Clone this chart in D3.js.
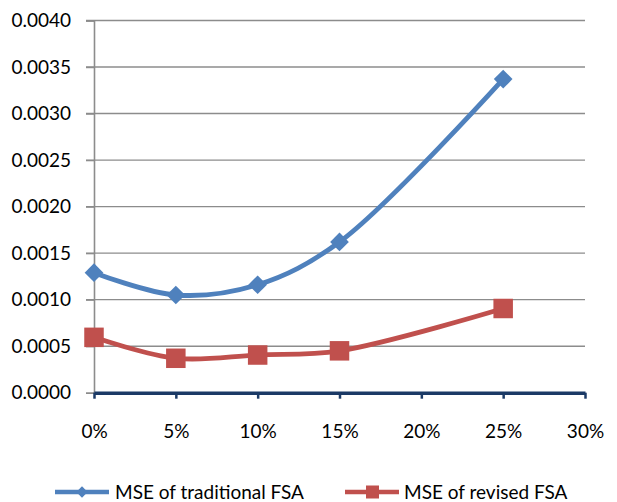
<!DOCTYPE html>
<html>
<head>
<meta charset="utf-8">
<script src="https://cdn.jsdelivr.net/npm/d3@7"></script>
<style>
  html, body { margin: 0; padding: 0; background: #fff; }
  svg { display: block; }
  text { font-family: Lato, "Open Sans", sans-serif; fill: #000; }
</style>
</head>
<body>
<svg id="chart" width="617" height="502"></svg>
<script>
// ---- data ----
const xValues = [0, 5, 10, 15, 25];            // noise level (%)
const traditionalMSE = [0.00129, 0.00105, 0.00116, 0.00162, 0.00337];
const revisedMSE = [0.000595, 0.00037, 0.000405, 0.00045, 0.000905];
const xTicks = [0, 5, 10, 15, 20, 25, 30];
const yTicks = [0, 0.0005, 0.001, 0.0015, 0.002, 0.0025, 0.003, 0.0035, 0.004];
const seriesNames = ["MSE of traditional FSA", "MSE of revised FSA"];
const seriesColors = ["#4F81BD", "#C0504D"];

// ---- layout ----
const svg = d3.select("#chart");
const plotLeft = 94, plotRight = 585, plotTop = 20.5, plotBottom = 392.7;
const fontSize = "19px";

const x = d3.scaleLinear().domain([0, 30]).range([plotLeft, plotRight]);
const y = d3.scaleLinear().domain([0, 0.004]).range([plotBottom, plotTop]);

// gridlines
svg.append("g")
  .selectAll("line")
  .data(yTicks.slice(1))
  .join("line")
  .attr("x1", plotLeft - 8).attr("x2", plotRight)
  .attr("y1", d => y(d)).attr("y2", d => y(d))
  .attr("stroke", "#8c8c8c").attr("stroke-width", 1.4);

// y axis
const yAxis = d3.axisLeft(y).tickValues(yTicks).tickFormat(d3.format(".4f")).tickSize(8).tickPadding(15);
const gy = svg.append("g").attr("transform", `translate(${plotLeft},0)`).call(yAxis);
gy.select(".domain").attr("stroke", "#8c8c8c").attr("stroke-width", 1.6);
gy.selectAll(".tick line").attr("stroke", "#8c8c8c").attr("stroke-width", 1.4);
gy.selectAll("text").style("font-size", fontSize).attr("fill", "#000");

// x axis
const xAxis = d3.axisBottom(x).tickValues(xTicks).tickFormat(d => d + "%").tickSize(6).tickSizeOuter(0).tickPadding(26);
const gx = svg.append("g").attr("transform", `translate(0,${plotBottom})`).call(xAxis);
gx.select(".domain").attr("stroke", "#1B3A66").attr("stroke-width", 3.5);
gx.selectAll(".tick line").attr("stroke", "#1B3A66").attr("stroke-width", 2.5);
gx.selectAll("text").style("font-size", fontSize).attr("fill", "#000");

// lines
const line = d3.line()
  .x(d => x(d[0]))
  .y(d => y(d[1]))
  .curve(d3.curveCatmullRom.alpha(0.5));

const series = [traditionalMSE, revisedMSE].map(vals => xValues.map((xv, i) => [xv, vals[i]]));

series.forEach((pts, si) => {
  svg.append("path")
    .datum(pts)
    .attr("fill", "none")
    .attr("stroke", seriesColors[si])
    .attr("stroke-width", 4.8)
    .attr("stroke-linejoin", "round")
    .attr("d", line);
});

// markers
const diamond = d3.symbol().type(d3.symbolSquare).size(175);
svg.append("g").selectAll("path")
  .data(series[0])
  .join("path")
  .attr("transform", d => `translate(${x(d[0])},${y(d[1])}) rotate(45)`)
  .attr("d", diamond)
  .attr("fill", seriesColors[0]);

svg.append("g").selectAll("rect")
  .data(series[1])
  .join("rect")
  .attr("x", d => x(d[0]) - 9.75)
  .attr("y", d => y(d[1]) - 9.75)
  .attr("width", 19.5).attr("height", 19.5)
  .attr("fill", seriesColors[1]);

// legend
const legendY = 492;
const legendItems = [
  { x0: 55, x1: 109, mx: 82, tx: 115 },
  { x0: 345, x1: 399, mx: 372.5, tx: 404 }
];
legendItems.forEach((it, i) => {
  const g = svg.append("g");
  g.append("line")
    .attr("x1", it.x0).attr("x2", it.x1)
    .attr("y1", legendY).attr("y2", legendY)
    .attr("stroke", seriesColors[i]).attr("stroke-width", 4.5);
  if (i === 0) {
    g.append("path")
      .attr("transform", `translate(${it.mx},${legendY}) rotate(45)`)
      .attr("d", d3.symbol().type(d3.symbolSquare).size(64)())
      .attr("fill", seriesColors[i]);
  } else {
    g.append("rect")
      .attr("x", it.mx - 6.5).attr("y", legendY - 6.5)
      .attr("width", 13).attr("height", 13)
      .attr("fill", seriesColors[i]);
  }
  g.append("text")
    .attr("x", it.tx).attr("y", legendY)
    .attr("dy", "0.35em")
    .style("font-size", fontSize)
    .text(seriesNames[i]);
});
</script>
</body>
</html>
